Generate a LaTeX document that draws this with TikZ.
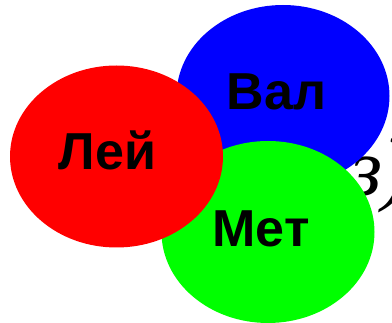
\documentclass[tikz,border=0pt]{standalone}
\usepackage{fontspec}
\setmainfont{Liberation Serif}
\newfontfamily\labfont{Liberation Sans}
\usetikzlibrary{shapes.geometric}
\definecolor{vblue}{RGB}{0,0,255}
\definecolor{vred}{RGB}{255,0,0}
\definecolor{vgreen}{RGB}{0,255,0}
\begin{document}
\begin{tikzpicture}[x=1pt,y=-1pt,
  blob/.style={ellipse, inner sep=0pt, draw=none, minimum width=213pt, minimum height=182pt},
  word/.style={font=\labfont\bfseries\fontsize{52}{52}\selectfont, anchor=base, inner sep=0pt}]
\useasboundingbox (0,0) rectangle (392,323);
\node[font=\itshape\fontsize{82}{82}\selectfont, anchor=base west, inner sep=0pt] (tag) at (350,196) {з)};
\node[blob, fill=vblue] (val) at (283,96) {};
\node[blob, fill=vgreen] (met) at (268,232) {};
\node[blob, fill=vred] (lei) at (116.5,156.5) {};
\node[word] (tval) at (276.5,110) {Вал};
\node[word] (tlei) at (107.5,170) {Лей};
\node[word] (tmet) at (261,247) {Мет};
\end{tikzpicture}
\end{document}
